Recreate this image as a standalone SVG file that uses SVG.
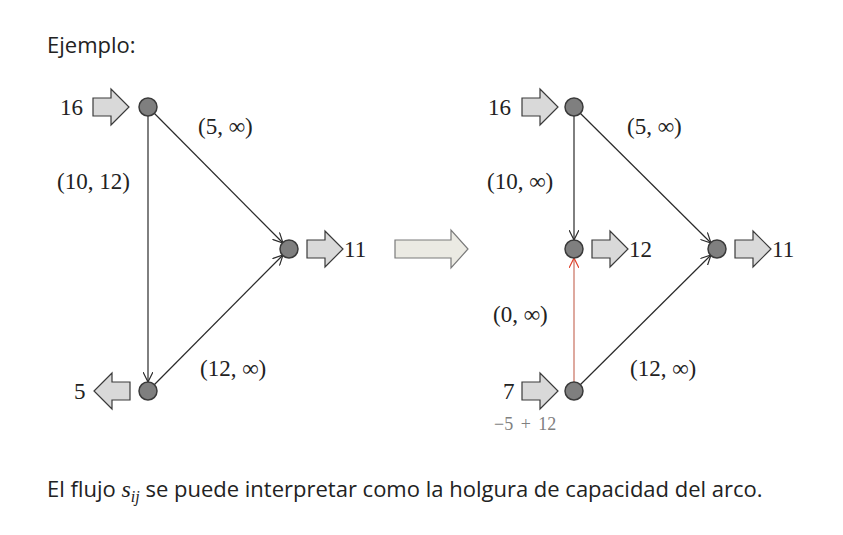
<svg xmlns="http://www.w3.org/2000/svg" width="843" height="535" viewBox="0 0 843 535">
<style>
.node{fill:#7f7f7f;stroke:#3a3a3a;stroke-width:1.5}
.edge{stroke:#2a2a2a;stroke-width:1.2;fill:none}
.red{stroke:#c8705e;stroke-width:1.2;fill:none}
.blk{fill:#d9d9d9;stroke:#3a3a3a;stroke-width:1.2}
.m{font-family:"Liberation Serif","DejaVu Serif",serif;font-size:23px;fill:#222}
.t{font-family:"Open Sans","Liberation Sans",sans-serif;font-size:22px;fill:#222}
</style>
<defs>
<marker id="ah" viewBox="0 0 10 10" refX="10" refY="5" markerWidth="10" markerHeight="10" markerUnits="userSpaceOnUse" orient="auto">
<path d="M0,0 L10,5 L0,10" fill="none" stroke="#2a2a2a" stroke-width="1.2"/>
</marker>
<marker id="ahr" viewBox="0 0 10 10" refX="10" refY="5" markerWidth="10" markerHeight="10" markerUnits="userSpaceOnUse" orient="auto">
<path d="M0,0 L10,5 L0,10" fill="none" stroke="#e0402a" stroke-width="1.2"/>
</marker>
<path id="ba" d="M0,-9 H18 V-18 L36,0 L18,18 V9 H0 Z"/>
</defs>
<text class="t" x="47" y="53">Ejemplo:</text>
<g id="connectors">
<line class="edge" x1="148" y1="116" x2="148" y2="382" marker-end="url(#ah)"/>
<line class="edge" x1="154" y1="113" x2="283" y2="243" marker-end="url(#ah)"/>
<line class="edge" x1="154" y1="385" x2="283" y2="255" marker-end="url(#ah)"/>
<line class="edge" x1="574" y1="116" x2="574" y2="240" marker-end="url(#ah)"/>
<line class="red" x1="574" y1="382" x2="574" y2="258" marker-end="url(#ahr)"/>
<line class="edge" x1="580" y1="113" x2="711" y2="243" marker-end="url(#ah)"/>
<line class="edge" x1="580" y1="385" x2="711" y2="255" marker-end="url(#ah)"/>
</g>
<g id="labels">
<text class="m" x="198" y="134">(5, ∞)</text>
<text class="m" x="57" y="189">(10, 12)</text>
<text class="m" x="200" y="376">(12, ∞)</text>
<text class="m" x="627" y="134">(5, ∞)</text>
<text class="m" x="487" y="189">(10, ∞)</text>
<text class="m" x="493" y="322">(0, ∞)</text>
<text class="m" x="630" y="376">(12, ∞)</text>
</g>
<g id="big-arrow"><path d="M395,240 H451 V230 L468,249 L451,268 V258 H395 Z" fill="#ebeae3" stroke="#7a7a7a" stroke-width="1.2"/></g>
<g id="L-top"><use href="#ba" class="blk" transform="translate(93,107)"/><text class="m" x="60" y="115">16</text><circle class="node" cx="148" cy="107" r="9"/></g>
<g id="L-right"><use href="#ba" class="blk" transform="translate(307,249)"/><text class="m" x="344" y="257">11</text><circle class="node" cx="289" cy="249" r="9"/></g>
<g id="L-bottom"><use href="#ba" class="blk" transform="translate(130,391) scale(-1,1)"/><text class="m" x="74" y="399">5</text><circle class="node" cx="148" cy="391" r="9"/></g>
<g id="R-top"><use href="#ba" class="blk" transform="translate(522,107)"/><text class="m" x="488" y="115">16</text><circle class="node" cx="574" cy="107" r="9"/></g>
<g id="R-mid"><use href="#ba" class="blk" transform="translate(592,249)"/><text class="m" x="629" y="257">12</text><circle class="node" cx="574" cy="249" r="9"/></g>
<g id="R-right"><use href="#ba" class="blk" transform="translate(735,249)"/><text class="m" x="772" y="257">11</text><circle class="node" cx="717" cy="249" r="9"/></g>
<g id="R-bottom"><use href="#ba" class="blk" transform="translate(522,391)"/><text class="m" x="503" y="399">7</text><text x="494" y="430" font-family="Liberation Serif,serif" font-size="18" word-spacing="3" fill="#808080">−5 + 12</text><circle class="node" cx="574" cy="391" r="9"/></g>
<text class="t" y="497"><tspan x="47">El flujo </tspan><tspan font-family="Liberation Serif,serif" font-style="italic" font-size="24">s</tspan><tspan font-family="Liberation Serif,serif" font-style="italic" font-size="16" dy="5">ij</tspan><tspan dy="-5"> se puede interpretar como la holgura de capacidad del arco.</tspan></text>
</svg>
